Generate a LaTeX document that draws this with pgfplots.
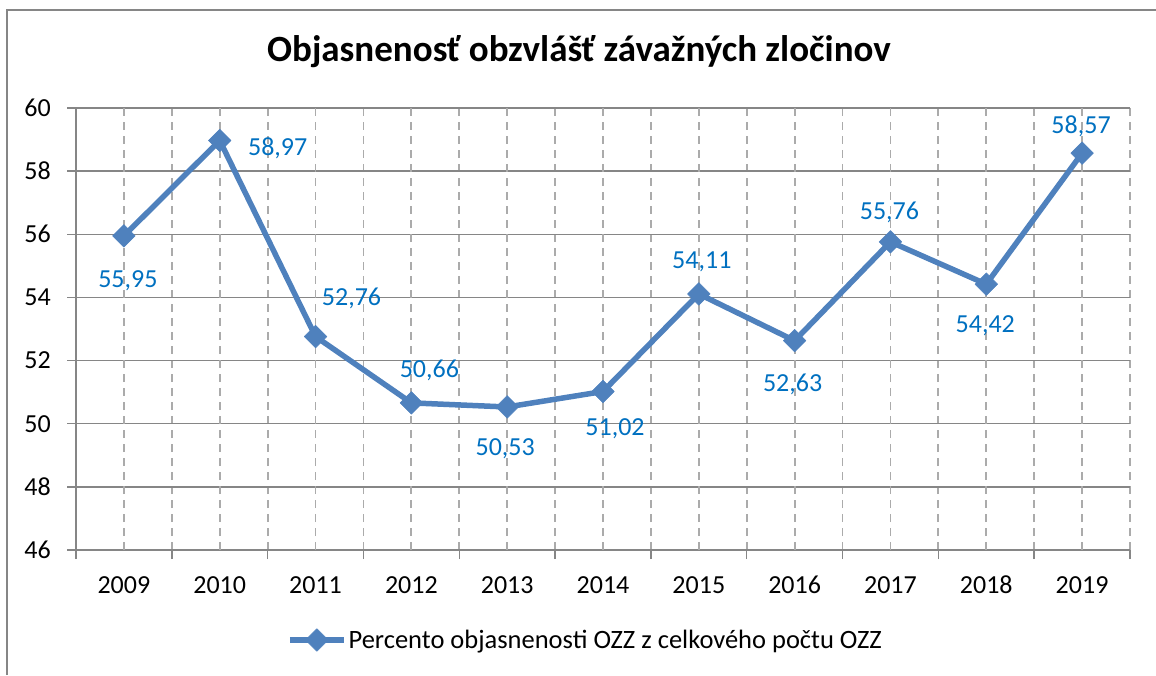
\documentclass[border=0pt]{standalone}
\usepackage{pgfplots}
\pgfplotsset{compat=1.18}
\usepackage{pgfplotstable}
\usepackage{fontspec}
\setmainfont{Carlito}
\definecolor{serie}{HTML}{4F81BD}
\definecolor{lab}{HTML}{0070C0}
\definecolor{axgray}{HTML}{868686}
\definecolor{gridgray}{HTML}{ABABAB}
\pgfplotstableread{
x y dx dy lab
0 55.95 4 -52 55,95
1 58.97 58 -15 58,97
2 52.76 36 31 52,76
3 50.66 18 25 50,66
4 50.53 -2 -49 50,53
5 51.02 12 -44 51,02
6 54.11 3 25 54,11
7 52.63 -2 -51 52,63
8 55.76 -1 22 55,76
9 54.42 -1 -48 54,42
10 58.57 -1 20 58,57
}\datatable
\begin{document}
\begin{tikzpicture}
\path[use as bounding box] (0,0) rectangle (1156pt,675pt);
\draw[axgray, line width=1.5pt] (7pt,0pt) -- (7pt,665pt) -- (1156pt,665pt);
\node[font=\fontsize{37}{44}\selectfont\bfseries, anchor=base, inner sep=0pt] at (579pt,613pt) {Objasnenosť obzvlášť závažných zločinov};
\begin{axis}[
  at={(76pt,125pt)}, anchor=south west, scale only axis,
  width=1054pt, height=442pt,
  xmin=-0.5, xmax=10.5, ymin=46, ymax=60,
  axis lines*=left,
  axis line style={axgray, line width=1.5pt, -},
  tick align=outside,
  major tick length=9pt,
  tick style={axgray, line width=1.5pt},
  /pgf/number format/assume math mode=true,
  xtick={-0.5,0.5,...,10.5}, xticklabels=\empty,
  extra x ticks={0,1,...,10},
  extra x tick labels={2009,2010,2011,2012,2013,2014,2015,2016,2017,2018,2019},
  extra x tick style={major tick length=0pt, grid=major,
     xticklabel style={font=\fontsize{26}{30}\selectfont, inner sep=0pt, anchor=north, yshift=-26pt}},
  ytick={46,48,...,60},
  yticklabel style={font=\fontsize{26}{30}\selectfont, inner sep=0pt, anchor=east, xshift=-16pt},
  xmajorgrids, ymajorgrids,
  x grid style={gridgray, line width=1.8pt, dash pattern=on 8pt off 6pt},
  y grid style={axgray, line width=1.5pt},
  legend style={at={(0.4834,-0.2036)}, anchor=center, draw=none, fill=none,
     font=\fontsize{26.5}{30}\selectfont, inner sep=0pt,
     /tikz/every even column/.append style={column sep=0pt}},
  legend image code/.code={\draw[mark repeat=2,mark phase=2,#1] plot coordinates {(0pt,0pt) (27pt,0pt) (54pt,0pt)};},
  legend cell align=left,
  clip=false,
]
\addplot[serie, line width=5.5pt, line join=round,
  mark=square*, mark size=8pt,
  mark options={solid, rotate=45, fill=serie, draw=serie, line width=0.5pt},
  nodes near coords, point meta=explicit symbolic,
  visualization depends on={\thisrow{dx}\as\dx},
  visualization depends on={\thisrow{dy}\as\dy},
  every node near coord/.append style={anchor=base, xshift=\dx pt, yshift=\dy pt,
     inner sep=0pt, text=lab, font=\fontsize{26}{30}\selectfont}
] table[x=x, y=y, meta=lab] {\datatable};
\addlegendentry{Percento objasnenosti OZZ z celkového počtu OZZ}
\end{axis}
\end{tikzpicture}
\end{document}
